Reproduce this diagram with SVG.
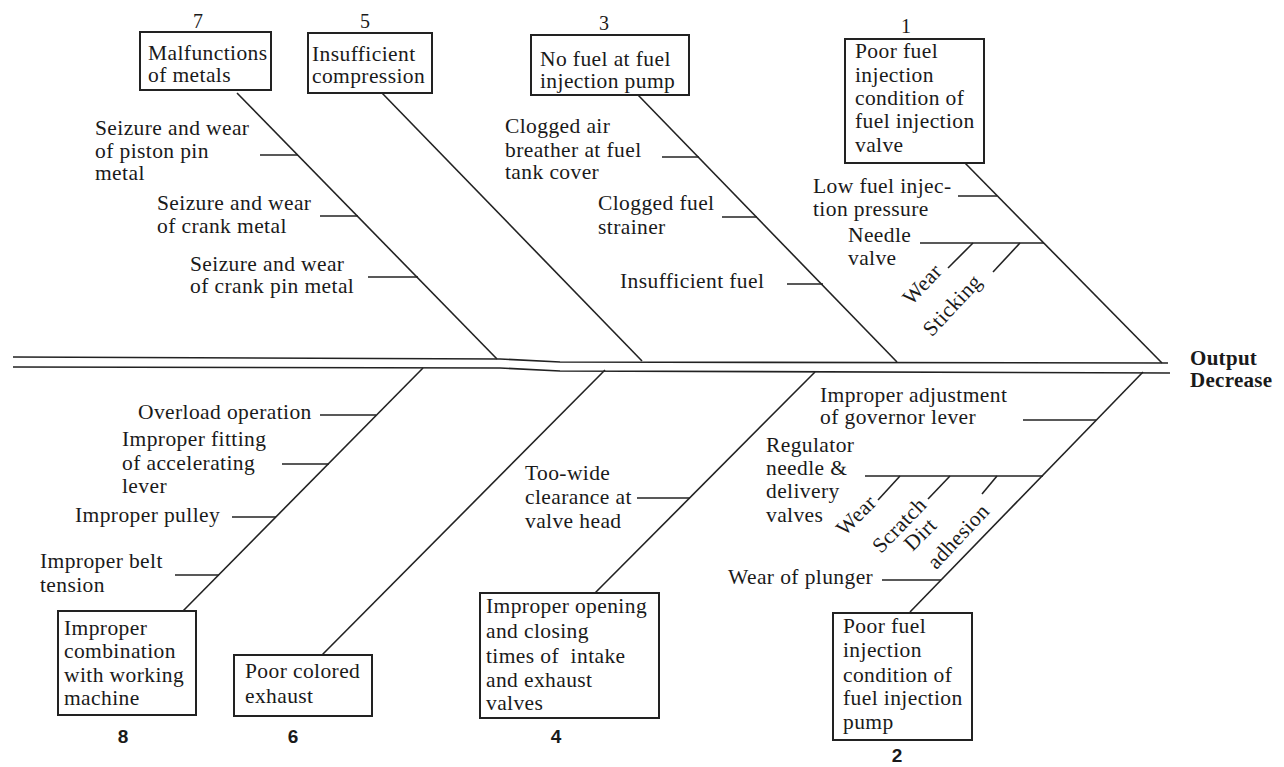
<svg xmlns="http://www.w3.org/2000/svg" width="1284" height="767" viewBox="0 0 1284 767">
<style>
.t{font-family:"Liberation Serif","Times New Roman",serif;font-size:21.5px;fill:#1a1a1a;letter-spacing:0.4px}
.n{font-family:"Liberation Serif","Times New Roman",serif;font-size:20px;fill:#1a1a1a;text-anchor:middle}
.nb{font-family:"Liberation Sans",Arial,sans-serif;font-size:19px;font-weight:bold;fill:#1a1a1a;text-anchor:middle}
.o{font-family:"Liberation Serif","Times New Roman",serif;font-size:21px;font-weight:bold;fill:#1a1a1a;letter-spacing:0.3px}
.r{text-anchor:middle}
.box{fill:#fff;stroke:#222;stroke-width:2}
.ln{fill:none;stroke:#222;stroke-width:1.6}
</style>
<rect width="1284" height="767" fill="#fff"/>

<g id="connectors" class="ln">
  <!-- spine -->
  <path d="M13,357 L500,359 L560,362 L1168,363"/>
  <path d="M13,367 L500,368 L560,371 L1170,373"/>
  <!-- top bones -->
  <path d="M237,93 L497,359"/>
  <path d="M382,93 L642,361"/>
  <path d="M638,95 L897,362"/>
  <path d="M965,163 L1162,363"/>
  <!-- bottom bones -->
  <path d="M183,611 L423,368"/>
  <path d="M322,655 L605,370"/>
  <path d="M595,593 L815,372"/>
  <path d="M910,612 L1143,372"/>
  <!-- branches bone 7 -->
  <path d="M260,155 L298,155"/>
  <path d="M320,216 L358,216"/>
  <path d="M368,277 L418,277"/>
  <!-- branches bone 3 -->
  <path d="M662,157 L699,157"/>
  <path d="M722,217 L757,217"/>
  <path d="M787,284 L823,284"/>
  <!-- branches bone 1 -->
  <path d="M958,196 L997,196"/>
  <path d="M920,243 L1044,243"/>
  <path d="M973,243 L948,268"/>
  <path d="M1020,243 L993,272"/>
  <!-- branches bone 8 -->
  <path d="M320,415 L376,415"/>
  <path d="M282,464 L329,464"/>
  <path d="M232,517 L276,517"/>
  <path d="M175,575 L219,575"/>
  <!-- branch bone 4 -->
  <path d="M637,498 L690,498"/>
  <!-- branches bone 2 -->
  <path d="M1023,420 L1096,420"/>
  <path d="M865,476 L1043,476"/>
  <path d="M900,476 L878,500"/>
  <path d="M950,476 L928,499"/>
  <path d="M997,476 L982,494"/>
  <path d="M882,580 L941,580"/>
</g>

<!-- top nodes -->
<g id="node-7">
  <rect class="box" x="140" y="32" width="131" height="58"/>
  <text class="n" x="198" y="28">7</text>
  <text class="t" x="148" y="60">Malfunctions</text>
  <text class="t" x="148" y="82">of metals</text>
</g>
<g id="node-5">
  <rect class="box" x="308" y="33" width="124" height="60"/>
  <text class="n" x="365" y="28">5</text>
  <text class="t" x="312" y="61">Insufficient</text>
  <text class="t" x="312" y="83">compression</text>
</g>
<g id="node-3">
  <rect class="box" x="531" y="35" width="158" height="60"/>
  <text class="n" x="604" y="30">3</text>
  <text class="t" x="540" y="66">No fuel at fuel</text>
  <text class="t" x="540" y="88">injection pump</text>
</g>
<g id="node-1">
  <rect class="box" x="845" y="39" width="139" height="124"/>
  <text class="n" x="906" y="33">1</text>
  <text class="t" x="855" y="58">Poor fuel</text>
  <text class="t" x="855" y="82">injection</text>
  <text class="t" x="855" y="105">condition of</text>
  <text class="t" x="855" y="128">fuel injection</text>
  <text class="t" x="855" y="152">valve</text>
</g>

<!-- bottom nodes -->
<g id="node-8">
  <rect class="box" x="58" y="611" width="138" height="104"/>
  <text class="nb" x="123" y="743">8</text>
  <text class="t" x="64" y="635">Improper</text>
  <text class="t" x="64" y="658">combination</text>
  <text class="t" x="64" y="682">with working</text>
  <text class="t" x="64" y="705">machine</text>
</g>
<g id="node-6">
  <rect class="box" x="234" y="655" width="138" height="61"/>
  <text class="nb" x="293" y="743">6</text>
  <text class="t" x="245" y="678">Poor colored</text>
  <text class="t" x="245" y="703">exhaust</text>
</g>
<g id="node-4">
  <rect class="box" x="480" y="593" width="179" height="125"/>
  <text class="nb" x="556" y="743">4</text>
  <text class="t" x="486" y="613">Improper opening</text>
  <text class="t" x="486" y="638">and closing</text>
  <text class="t" x="486" y="663" style="white-space:pre">times of  intake</text>
  <text class="t" x="486" y="687">and exhaust</text>
  <text class="t" x="486" y="710">valves</text>
</g>
<g id="node-2">
  <rect class="box" x="833" y="613" width="139" height="127"/>
  <text class="nb" x="897" y="762">2</text>
  <text class="t" x="843" y="633">Poor fuel</text>
  <text class="t" x="843" y="657">injection</text>
  <text class="t" x="843" y="682">condition of</text>
  <text class="t" x="843" y="705">fuel injection</text>
  <text class="t" x="843" y="729">pump</text>
</g>

<!-- effect -->
<g id="effect">
  <text class="o" x="1190" y="365">Output</text>
  <text class="o" x="1190" y="387">Decrease</text>
</g>

<!-- cause labels -->
<g id="causes-7">
  <text class="t" x="95" y="135">Seizure and wear</text>
  <text class="t" x="95" y="158">of piston pin</text>
  <text class="t" x="95" y="180">metal</text>
  <text class="t" x="157" y="210">Seizure and wear</text>
  <text class="t" x="157" y="233">of crank metal</text>
  <text class="t" x="190" y="271">Seizure and wear</text>
  <text class="t" x="190" y="293">of crank pin metal</text>
</g>
<g id="causes-3">
  <text class="t" x="505" y="133">Clogged air</text>
  <text class="t" x="505" y="157">breather at fuel</text>
  <text class="t" x="505" y="179">tank cover</text>
  <text class="t" x="598" y="210">Clogged fuel</text>
  <text class="t" x="598" y="234">strainer</text>
  <text class="t" x="620" y="288">Insufficient fuel</text>
</g>
<g id="causes-1">
  <text class="t" x="813" y="193">Low fuel injec-</text>
  <text class="t" x="813" y="216">tion pressure</text>
  <text class="t" x="848" y="242">Needle</text>
  <text class="t" x="848" y="265">valve</text>
  <text class="t r" x="923" y="291" transform="rotate(-47 923 285)">Wear</text>
  <text class="t r" x="953" y="312" transform="rotate(-47 953 306)">Sticking</text>
</g>
<g id="causes-8">
  <text class="t" x="138" y="419">Overload operation</text>
  <text class="t" x="122" y="446">Improper fitting</text>
  <text class="t" x="122" y="470">of accelerating</text>
  <text class="t" x="122" y="493">lever</text>
  <text class="t" x="75" y="522">Improper pulley</text>
  <text class="t" x="40" y="568">Improper belt</text>
  <text class="t" x="40" y="592">tension</text>
</g>
<g id="causes-4">
  <text class="t" x="525" y="480">Too-wide</text>
  <text class="t" x="525" y="504">clearance at</text>
  <text class="t" x="525" y="528">valve head</text>
</g>
<g id="causes-2">
  <text class="t" x="820" y="402">Improper adjustment</text>
  <text class="t" x="820" y="424">of governor lever</text>
  <text class="t" x="766" y="452">Regulator</text>
  <text class="t" x="766" y="475">needle &amp;</text>
  <text class="t" x="766" y="498">delivery</text>
  <text class="t" x="766" y="522">valves</text>
  <text class="t r" x="857" y="522" transform="rotate(-45 857 516)">Wear</text>
  <text class="t r" x="900" y="532" transform="rotate(-46 900 526)">Scratch</text>
  <text class="t r" x="921" y="541" transform="rotate(-45 921 535)">Dirt</text>
  <text class="t r" x="959" y="543" transform="rotate(-47 959 537)">adhesion</text>
  <text class="t" x="728" y="584">Wear of plunger</text>
</g>
</svg>
